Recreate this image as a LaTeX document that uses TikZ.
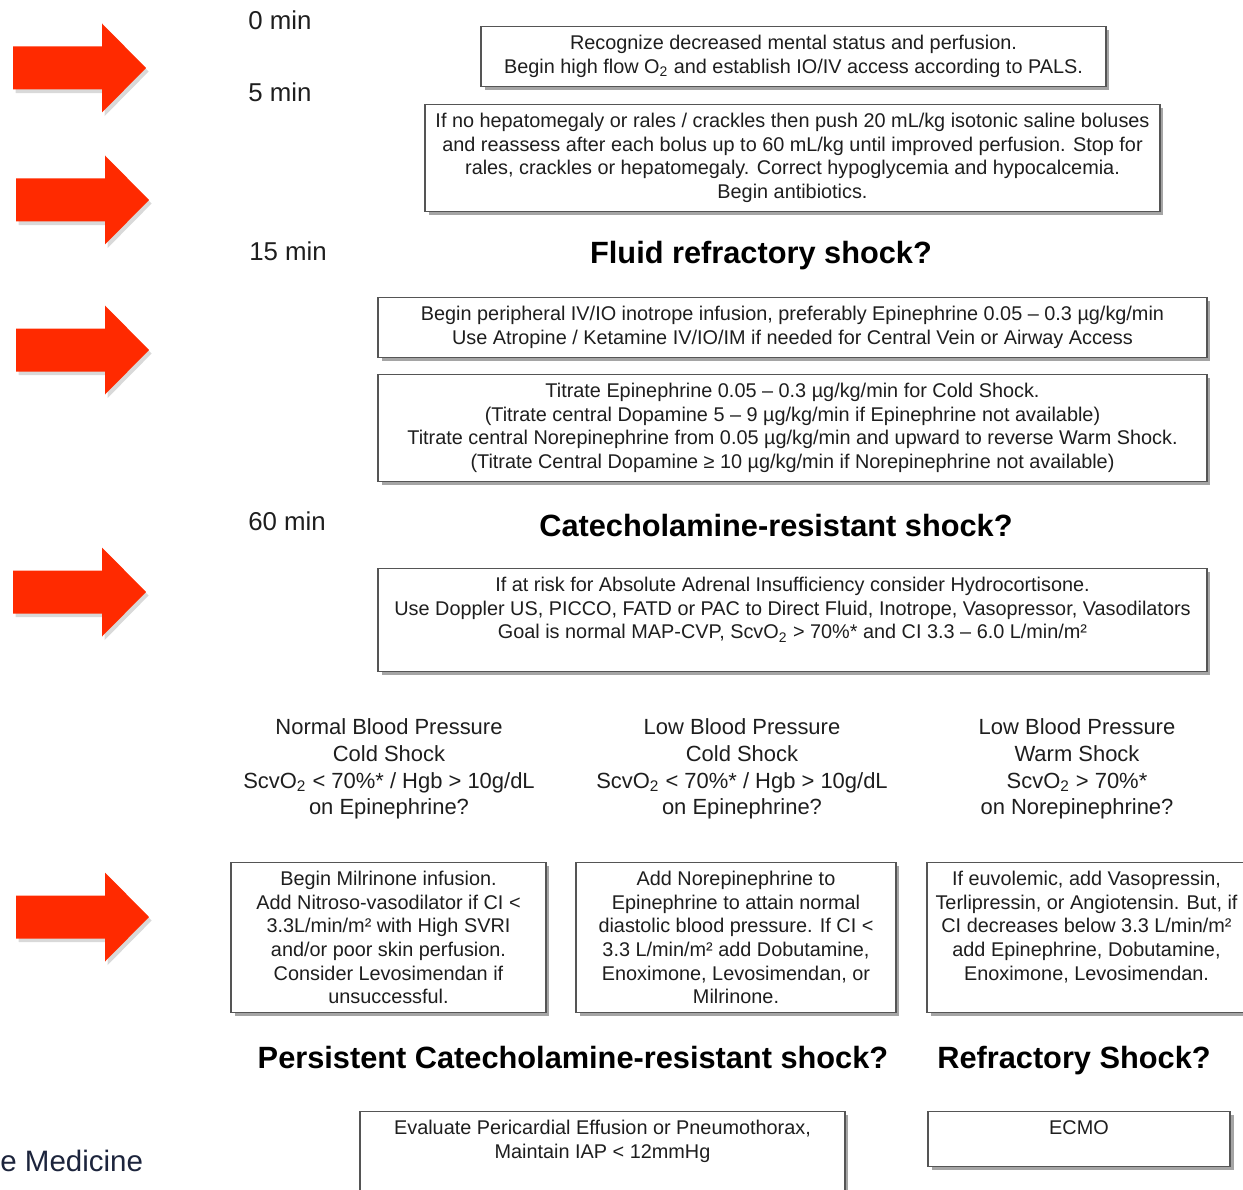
\documentclass[tikz,border=0pt]{standalone}
\usepackage{fontspec}
\setmainfont{Liberation Sans}
\usetikzlibrary{shadows}
\definecolor{arrowred}{RGB}{255,42,0}
\definecolor{boxline}{RGB}{85,85,85}
\definecolor{inktext}{RGB}{30,30,30}
\definecolor{navytext}{RGB}{28,36,60}
\tikzset{
    box/.style={
        draw=boxline,
        line width=0.8pt,
        fill=white,
        anchor=north,
        inner xsep=3pt,
        inner ysep=5pt,
        align=center,
        text=inktext,
        font=\fontsize{11.3}{13.4}\selectfont,
        drop shadow={shadow xshift=2pt,shadow yshift=-2pt,fill=black!70,opacity=0.5}},
    timelbl/.style={
        anchor=west,
        inner sep=0pt,
        text=inktext,
        font=\fontsize{14.7}{17}\selectfont},
    question/.style={
        anchor=base,
        text=black,
        font=\fontsize{17.5}{20}\selectfont\bfseries},
    bpgroup/.style={
        align=center,
        text=inktext,
        font=\fontsize{12.5}{15.2}\selectfont},
    bigarrow/.style={
        fill=arrowred,
        drop shadow={shadow xshift=1.5pt,shadow yshift=-2pt,opacity=0.3}}}

\begin{document}
\begin{tikzpicture}[x=0.02cm,y=-0.02cm]
    \useasboundingbox (0,0) rectangle (1243,1189);

    % red arrows on the left
    \foreach \ax/\ay in {13/68,16/200,16/350,13/592,16/917}
        \fill[bigarrow] (\ax,\ay) ++(0,-21.5) -- ++(89,0) -- ++(0,-23) -- ++(44,44.5)
            -- ++(-44,44.5) -- ++(0,-23) -- ++(-89,0) -- cycle;

    % time marks
    \node[timelbl] (t0) at (248,20) {0 min};
    \node[timelbl] (t5) at (248,92) {5 min};
    \node[timelbl] (t15) at (249,251) {15 min};
    \node[timelbl] (t60) at (248,521) {60 min};

    \node[box,minimum width=12.5cm] (recognize) at (793.5,26)
        {Recognize decreased mental status and perfusion.\\
         Begin high flow O\textsubscript{2} and establish IO/IV access according to PALS.};
    \node[box,minimum width=14.7cm] (boluses) at (792.5,104)
        {If no hepatomegaly or rales / crackles then push 20 mL/kg isotonic saline boluses\\
         and reassess after each bolus up to 60 mL/kg until improved perfusion. Stop for\\
         rales, crackles or hepatomegaly. Correct hypoglycemia and hypocalcemia.\\
         Begin antibiotics.};

    \node[question] (fluidq) at (761,264) {Fluid refractory shock?};

    \node[box,minimum width=16.58cm] (inotrope) at (792.5,297)
        {Begin peripheral IV/IO inotrope infusion, preferably Epinephrine 0.05 – 0.3 µg/kg/min\\
         Use Atropine / Ketamine IV/IO/IM if needed for Central Vein or Airway Access};
    \node[box,minimum width=16.58cm] (titrate) at (792.5,374)
        {Titrate Epinephrine 0.05 – 0.3 µg/kg/min for Cold Shock.\\
         (Titrate central Dopamine 5 – 9 µg/kg/min if Epinephrine not available)\\
         Titrate central Norepinephrine from 0.05 µg/kg/min and upward to reverse Warm Shock.\\
         (Titrate Central Dopamine ≥ 10 µg/kg/min if Norepinephrine not available)};

    \node[question] (catq) at (776,536) {Catecholamine-resistant shock?};

    \node[box,minimum width=16.58cm] (adrenal) at (792.5,568)
        {If at risk for Absolute Adrenal Insufficiency consider Hydrocortisone.\\
         Use Doppler US, PICCO, FATD or PAC to Direct Fluid, Inotrope, Vasopressor, Vasodilators\\
         Goal is normal MAP-CVP, ScvO\textsubscript{2} > 70\%* and CI 3.3 – 6.0 L/min/m²\\
         \mbox{}};

    % three branches
    \node[bpgroup] (normcold) at (389,769)
        {Normal Blood Pressure\\ Cold Shock\\ ScvO\textsubscript{2} < 70\%* / Hgb > 10g/dL\\ on Epinephrine?};
    \node[bpgroup] (lowcold) at (742,769)
        {Low Blood Pressure\\ Cold Shock\\ ScvO\textsubscript{2} < 70\%* / Hgb > 10g/dL\\ on Epinephrine?};
    \node[bpgroup] (lowwarm) at (1077,769)
        {Low Blood Pressure\\ Warm Shock\\ ScvO\textsubscript{2} > 70\%*\\ on Norepinephrine?};

    \node[box,minimum width=6.3cm,drop shadow={opacity=0}] (milrinone) at (388.5,862)
        {Begin Milrinone infusion.\\ Add Nitroso-vasodilator if CI <\\ 3.3L/min/m² with High SVRI\\
         and/or poor skin perfusion.\\ Consider Levosimendan if\\ unsuccessful.};
    \node[box,minimum width=6.4cm,drop shadow={opacity=0}] (norepi) at (736,862)
        {Add Norepinephrine to\\ Epinephrine to attain normal\\ diastolic blood pressure. If CI <\\
         3.3 L/min/m² add Dobutamine,\\ Enoximone, Levosimendan, or\\ Milrinone.};
    \node[box,minimum width=6.38cm,drop shadow={opacity=0}] (vasopressin) at (1086.5,862)
        {If euvolemic, add Vasopressin,\\ Terlipressin, or Angiotensin. But, if\\ CI decreases below 3.3 L/min/m²\\
         add Epinephrine, Dobutamine,\\ Enoximone, Levosimendan.\\ \mbox{}};

    \node[question] (persq) at (573,1068) {Persistent Catecholamine-resistant shock?};
    \node[question] (refrq) at (1074,1068) {Refractory Shock?};

    \node[box,minimum width=9.7cm] (effusion) at (602.5,1111)
        {Evaluate Pericardial Effusion or Pneumothorax,\\ Maintain IAP < 12mmHg\\ \mbox{}\\ \mbox{}};
    \node[box,minimum width=6.04cm] (ecmo) at (1079,1111) {ECMO\\ \mbox{}};

    \node[anchor=west,inner sep=0pt,text=navytext,font=\fontsize{16.8}{20}\selectfont] (source) at (0,1161) {e Medicine};
\end{tikzpicture}
\end{document}
